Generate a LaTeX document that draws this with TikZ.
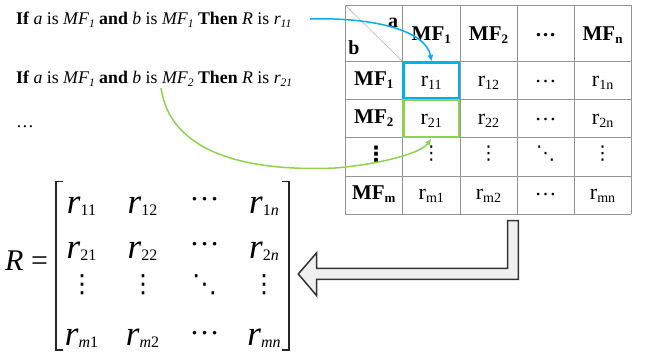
\documentclass[tikz,border=0pt]{standalone}
\usepackage{fontspec}
\setmainfont{Liberation Serif}
\newfontfamily\dejavu{DejaVu Sans}
\usetikzlibrary{arrows.meta}
\definecolor{boxblue}{RGB}{0,176,240}
\definecolor{boxgreen}{RGB}{146,208,80}
\definecolor{gridgray}{RGB}{150,150,150}
\newcommand\lsub[1]{\raisebox{-3pt}{\fontsize{11.5}{11.5}\selectfont\itshape #1}}
\newcommand\hsub[1]{\raisebox{-3pt}{\fontsize{13}{13}\selectfont\bfseries #1}}
\newcommand\tr[1]{r\raisebox{-3pt}{\fontsize{14}{14}\selectfont #1}}
\newcommand\mr[1]{{\fontsize{35}{35}\selectfont\itshape r}\raisebox{-2pt}{\fontsize{16}{16}\selectfont #1}}
\tikzset{
  linetext/.style={anchor=base west,inner sep=0pt,font=\fontsize{17.8}{20}\selectfont},
  hdr/.style={anchor=base,inner sep=0pt,font=\fontsize{21}{21}\selectfont\bfseries},
  cell/.style={anchor=base,inner sep=0pt,font=\fontsize{22}{22}\selectfont},
  ment/.style={anchor=base,inner sep=0pt},
  tdots/.style={inner sep=0pt,font=\fontsize{19}{19}\selectfont\dejavu},
  mdots/.style={inner sep=0pt,font=\fontsize{25}{25}\selectfont\dejavu},
  grid/.style={draw=gridgray,line width=0.9pt},
  link/.style={line width=1.5pt,-{Triangle[length=6pt,width=5pt]}},
}
\begin{document}
\begin{tikzpicture}[x=1pt,y=-1pt]
\useasboundingbox (0,0) rectangle (645,354);
% rule lines
\node[linetext] (l1) at (16,24) {{\bfseries If} \textit{a} is \textit{MF}\lsub{1} {\bfseries and} \textit{b} is \textit{MF}\lsub{1} {\bfseries Then} \textit{R} is \textit{r}\lsub{11}};
\node[linetext] (l2) at (16,83) {{\bfseries If} \textit{a} is \textit{MF}\lsub{1} {\bfseries and} \textit{b} is \textit{MF}\lsub{2} {\bfseries Then} \textit{R} is \textit{r}\lsub{21}};
\node[linetext] (l3) at (16,127) {\dots};
% table grid
\foreach \x in {345,402.7,460,517,574.3,631} \draw[grid] (\x,5) -- (\x,214);
\foreach \y in {5,61.5,99.3,137.5,176,214} \draw[grid] (345,\y) -- (631,\y);
\draw[gridgray!70,line width=0.6pt] (345,5) -- (402.7,61.5);
% header
\node[anchor=base,inner sep=0pt,font=\fontsize{20}{20}\selectfont\bfseries] (ha) at (393,27) {a};
\node[anchor=base,inner sep=0pt,font=\fontsize{20}{20}\selectfont\bfseries] (hb) at (354,54) {b};
\node[hdr] (h1) at (431.3,40) {MF\hsub{1}};
\node[hdr] (h2) at (488.5,40) {MF\hsub{2}};
\node[hdr] (h3) at (545.6,36) {\dots};
\node[hdr] (h4) at (602.6,40) {MF\hsub{n}};
% row labels
\node[hdr] (v1) at (373.8,85) {MF\hsub{1}};
\node[hdr] (v2) at (373.8,123) {MF\hsub{2}};
\node[tdots,font=\fontsize{21}{21}\selectfont\dejavu\bfseries] (v3) at (376,154) {⋮};
\node[hdr] (v4) at (373.8,199) {MF\hsub{m}};
% cells
\node[cell] (c11) at (431.3,86) {\tr{11}};
\node[cell] (c12) at (488.5,86) {\tr{12}};
\node[cell] (c13) at (545.6,82) {\dots};
\node[cell] (c14) at (602.6,86) {\tr{1n}};
\node[cell] (c21) at (431.3,124) {\tr{21}};
\node[cell] (c22) at (488.5,124) {\tr{22}};
\node[cell] (c23) at (545.6,120) {\dots};
\node[cell] (c24) at (602.6,124) {\tr{2n}};
\node[tdots] (c31) at (431.3,154) {⋮};
\node[tdots] (c32) at (488.5,154) {⋮};
\node[tdots] (c33) at (545.6,154) {⋱};
\node[tdots] (c34) at (602.6,154) {⋮};
\node[cell] (c41) at (431.3,199) {\tr{m1}};
\node[cell] (c42) at (488.5,199) {\tr{m2}};
\node[cell] (c43) at (545.6,195) {\dots};
\node[cell] (c44) at (602.6,199) {\tr{mn}};
% highlighted boxes
\draw[boxblue,line width=2.5pt] (403.5,62.5) rectangle (459.2,98.5);
\draw[boxgreen,line width=2.5pt] (403.5,100) rectangle (459.2,137);
\coordinate (bs) at (310,19);
\coordinate (bt) at (431.5,61);
\coordinate (gs) at (161,88);
\coordinate (gm) at (335,168);
\coordinate (gt) at (431,139);
\draw[boxblue,link] (bs) .. controls (378,17) and (426,32) .. (bt);
\draw[boxgreen,link] (gs) .. controls (170,150) and (240,172) .. (gm) .. controls (382,164) and (421,153) .. (gt);
% big arrow
\draw[fill=black!6,draw=black!80,line width=1.5pt,line join=miter] (518.3,220.7) -- (518.3,279.3) -- (316.7,279.3) -- (316.7,295.7) -- (298.3,274) -- (316.7,252.7) -- (316.7,268.3) -- (507.7,268.3) -- (507.7,220.7) -- cycle;
% matrix
\node[anchor=base west,inner sep=0pt,font=\fontsize{30}{30}\selectfont] (R) at (5,270) {\textit{R} =};
\draw[black!85,line width=1.3pt] (63,181.5) -- (56,181.5) -- (56,350) -- (63,350);
\draw[black!85,line width=1.3pt] (282,181.5) -- (289,181.5) -- (289,350) -- (282,350);
\node[ment] (m11) at (81.5,213) {\mr{11}};
\node[ment] (m12) at (142.5,213) {\mr{12}};
\node[ment,font=\fontsize{30}{30}\selectfont] (m13) at (204.5,200) {\dots};
\node[ment] (m14) at (264,213) {\mr{1\textit{n}}};
\node[ment] (m21) at (81.5,258) {\mr{21}};
\node[ment] (m22) at (142.5,258) {\mr{22}};
\node[ment,font=\fontsize{30}{30}\selectfont] (m23) at (204.5,245) {\dots};
\node[ment] (m24) at (264,258) {\mr{2\textit{n}}};
\node[mdots] (m31) at (82,285) {⋮};
\node[mdots] (m32) at (143,285) {⋮};
\node[mdots] (m33) at (204.5,285) {⋱};
\node[mdots] (m34) at (264,285) {⋮};
\node[ment] (m41) at (81.5,345) {\mr{\textit{m}1}};
\node[ment] (m42) at (142.5,345) {\mr{\textit{m}2}};
\node[ment,font=\fontsize{30}{30}\selectfont] (m43) at (204.5,334) {\dots};
\node[ment] (m44) at (264,345) {\mr{\textit{mn}}};
\end{tikzpicture}
\end{document}
